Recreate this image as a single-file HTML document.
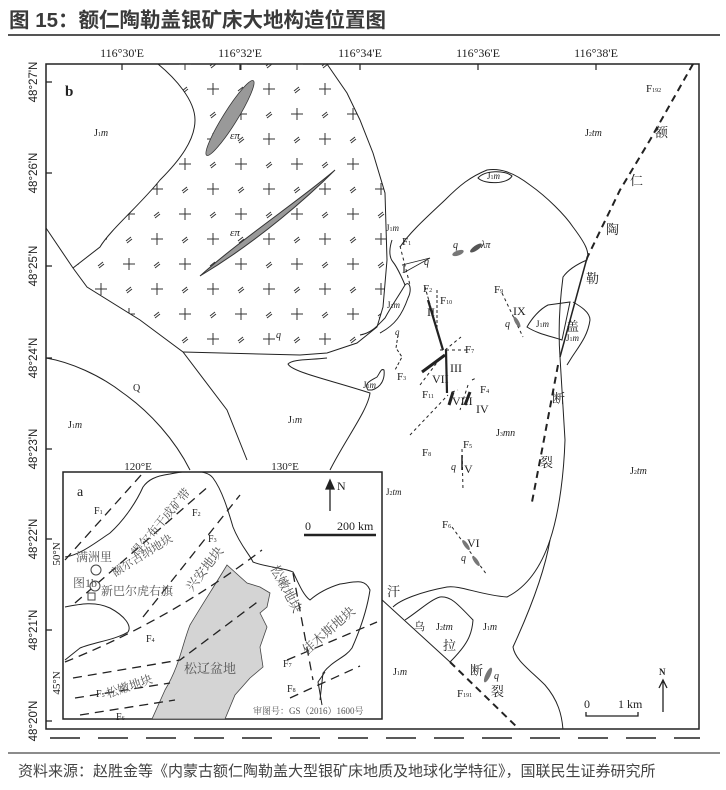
<!DOCTYPE html>
<html><head><meta charset="utf-8"><style>
html,body{margin:0;padding:0;background:#fff;width:726px;height:790px;overflow:hidden}
svg{position:absolute;left:0;top:0}
.t{font-family:"Liberation Serif","Noto Serif CJK SC",serif;fill:#222}
.s{font-family:"Liberation Sans","Noto Sans CJK SC",sans-serif}
.i{font-style:italic}
</style></head><body>
<svg width="726" height="790" viewBox="0 0 726 790" xmlns="http://www.w3.org/2000/svg">
<defs>
<pattern id="gr" width="56" height="50" patternUnits="userSpaceOnUse" x="2" y="4">
<g stroke="#333" stroke-width="1">
<path d="M9 10h12M15 4v12"/>
<path d="M40 12l5-4M41 14l5-4"/>
<path d="M37 35h12M43 29v12"/>
<path d="M12 37l5-4M13 39l5-4"/>
</g>
</pattern>
<clipPath id="gc"><path d="M158,64 C175,78 195,100 195,120 C195,140 180,160 160,180 C140,205 110,230 100,247 L73,268 L87,287 L140,320 L183,352 L300,355 L327,353 L357,343 L377,327 L383,307 L387,260 L385,193 L373,153 L360,120 L347,93 L327,64 Z"/></clipPath>
<clipPath id="mc"><rect x="46" y="64" width="653" height="665"/></clipPath>
<clipPath id="ic"><rect x="63" y="472" width="319" height="247"/></clipPath>
</defs>

<text x="9" y="27" class="s" font-size="20.5" font-weight="bold" fill="#3a3a3a">图 15：额仁陶勒盖银矿床大地构造位置图</text>
<line x1="8" y1="35" x2="720" y2="35" stroke="#555" stroke-width="2"/>

<g class="t" font-size="12" text-anchor="middle">
<text x="122" y="57">116°30'E</text><text x="240" y="57">116°32'E</text><text x="360" y="57">116°34'E</text><text x="478" y="57">116°36'E</text><text x="596" y="57">116°38'E</text>
</g>
<g class="s" font-size="11.5" fill="#222" text-anchor="middle">
<text transform="translate(37,82) rotate(-90)">48°27'N</text>
<text transform="translate(37,173) rotate(-90)">48°26'N</text>
<text transform="translate(37,266) rotate(-90)">48°25'N</text>
<text transform="translate(37,358) rotate(-90)">48°24'N</text>
<text transform="translate(37,449) rotate(-90)">48°23'N</text>
<text transform="translate(37,539) rotate(-90)">48°22'N</text>
<text transform="translate(37,630) rotate(-90)">48°21'N</text>
<text transform="translate(37,721) rotate(-90)">48°20'N</text>
</g>

<rect x="46" y="64" width="653" height="665" fill="none" stroke="#222" stroke-width="1.5"/>
<g stroke="#222" stroke-width="1.2">
<path d="M122 64v6M240 64v6M360 64v6M478 64v6M596 64v6"/>
<path d="M46 82h6M46 173h6M46 266h6M46 358h6M46 449h6M46 539h6M46 630h6M46 721h6"/>
</g>
<path d="M50 738h650" stroke="#222" stroke-width="1.6" stroke-dasharray="30 18"/>

<g clip-path="url(#mc)" fill="none" stroke="#222" stroke-width="1">
<rect x="40" y="60" width="360" height="300" fill="url(#gr)" stroke="none" clip-path="url(#gc)"/>
<path d="M158,64 C175,78 195,100 195,120 C195,140 180,160 160,180 C140,205 110,230 100,247 L73,268"/>
<path d="M46,228 L73,268 L87,287 L140,320 L183,352 L227,410 L247,460"/>
<path d="M183,352 L300,355 L327,353 L357,343 L377,327 L383,307 L387,260 L385,193 L373,153 L360,120 L347,93 L327,64"/>
<path d="M327,358 C310,360 292,359 288,364 C292,372 330,380 370,393 C368,410 345,440 330,470"/>
<path d="M46,358 C70,362 100,375 123,393 C150,412 175,440 190,470"/>
<path d="M368,390 C363,383 372,380 377,377 C380,373 381,368 384,370 C385,378 382,387 372,390 Z"/>
<path d="M360,335 C372,333 378,325 385,318 C392,305 398,297 405,285 C410,280 412,290 408,298 C402,315 395,325 380,333"/>
<path d="M392,240 C390,246 388,256 393,262 C398,268 405,285 405,285"/>
<path d="M400,247 C410,232 427,217 445,200 C460,185 470,177 487,170 C500,168 513,172 530,185 C547,197 565,215 573,227 C585,243 590,252 587,260 C575,265 568,270 563,277 C560,300 558,330 560,357 L565,440 C564,470 560,510 550,540 C540,570 525,588 507,597 C480,595 460,585 447,587 C420,592 400,600 393,607"/>
<path d="M550,540 C545,570 530,610 513,647 C515,660 530,670 545,685 C558,700 562,715 563,730"/>
<path d="M405,620 C420,610 430,600 440,597 C450,596 456,602 473,620 C472,635 467,645 450,662"/>
<path d="M380,598 L450,662"/>
<path d="M450,662 L520,730" stroke-width="2" stroke-dasharray="7 5"/>
<path d="M478,178 C485,170 505,170 512,176 C508,184 485,185 478,178 Z"/>
<path d="M527,327 C532,318 540,309 548,305 L570,302 L562,340 C550,336 538,334 527,327 Z"/>
<path d="M573,302 C580,306 590,312 590,320 C588,335 580,345 572,357 L567,365"/>
<path d="M693,64 L650,140 L620,190 L587,258" stroke-width="2" stroke-dasharray="7 5"/>
<path d="M587,258 L560,357" stroke-width="1.5"/>
<path d="M558,365 L542,450 L532,502" stroke-width="2" stroke-dasharray="7 5"/>
<path d="M400,246 L410,285" stroke-dasharray="3 3"/>
<path d="M402,265 L430,258 M405,272 L430,258" stroke-width="0.8"/>
<path d="M425,287 L443,350 M437,290 L437,330" stroke-dasharray="3 2"/>
<path d="M428,300 L443,350" stroke-width="2.2"/>
<path d="M440,350 L470,350 M420,385 L442,356 M445,350 L461,337" stroke-dasharray="3 3"/>
<path d="M422,372 L445,355" stroke-width="3"/>
<path d="M446,350 L447,393" stroke-width="2.2"/>
<path d="M410,435 L448,395 M452,392 L458,390" stroke-dasharray="3 3"/>
<path d="M453,392 L449,405" stroke-width="3"/>
<path d="M468,385 L460,410 M472,380 L476,378" stroke-dasharray="3 3"/>
<path d="M470,392 L465,405" stroke-width="3"/>
<path d="M502,293 L523,337" stroke-dasharray="3 3"/>
<path d="M462,449 L463,490" stroke-dasharray="3 3"/>
<path d="M462,455 L462,470" stroke-width="1.5"/>
<path d="M452,527 L487,575" stroke-dasharray="3 3"/>
<path d="M398,335 L396,348 L402,357 L395,370" stroke-dasharray="3 2"/>
</g>
<ellipse cx="230" cy="118" rx="44" ry="7" transform="rotate(-58 230 118)" fill="#999" stroke="#333" stroke-width="0.8"/>
<path d="M200,276 C240,240 300,200 335,170 C310,195 260,240 200,276 Z" fill="#999" stroke="#333" stroke-width="1"/>
<ellipse cx="458" cy="253" rx="6" ry="2.5" transform="rotate(-20 458 253)" fill="#777"/>
<ellipse cx="476" cy="248" rx="7" ry="2.5" transform="rotate(-35 476 248)" fill="#555"/>
<ellipse cx="517" cy="322" rx="6" ry="2" transform="rotate(60 517 322)" fill="#777"/>
<ellipse cx="466" cy="545" rx="6" ry="2" transform="rotate(55 466 545)" fill="#777"/>
<ellipse cx="476" cy="561" rx="6" ry="2" transform="rotate(55 476 561)" fill="#777"/>
<ellipse cx="488" cy="675" rx="8" ry="2.5" transform="rotate(-65 488 675)" fill="#777"/>

<g class="t" font-size="10">
<text x="65" y="96" font-size="15" font-weight="bold">b</text>
<text x="94" y="136">J<tspan font-size="6">1</tspan><tspan class="i">m</tspan></text>
<text x="230" y="139" class="i" font-size="11">επ</text>
<text x="230" y="236" class="i" font-size="11">επ</text>
<text x="276" y="338" class="i">q</text>
<text x="133" y="391">Q</text>
<text x="68" y="428">J<tspan font-size="6">1</tspan><tspan class="i">m</tspan></text>
<text x="288" y="423">J<tspan font-size="6">1</tspan><tspan class="i">m</tspan></text>
<text x="386" y="231" font-size="9">J<tspan font-size="6">1</tspan><tspan class="i">m</tspan></text>
<text x="387" y="308" font-size="9">J<tspan font-size="6">1</tspan><tspan class="i">m</tspan></text>
<text x="363" y="388" font-size="9">J<tspan font-size="6">1</tspan><tspan class="i">m</tspan></text>
<text x="487" y="179" font-size="9">J<tspan font-size="6">1</tspan><tspan class="i">m</tspan></text>
<text x="536" y="327" font-size="9">J<tspan font-size="6">1</tspan><tspan class="i">m</tspan></text>
<text x="566" y="341" font-size="9">J<tspan font-size="6">1</tspan><tspan class="i">m</tspan></text>
<text x="585" y="136">J<tspan font-size="6">2</tspan><tspan class="i">tm</tspan></text>
<text x="630" y="474">J<tspan font-size="6">2</tspan><tspan class="i">tm</tspan></text>
<text x="386" y="495" font-size="9">J<tspan font-size="6">2</tspan><tspan class="i">tm</tspan></text>
<text x="496" y="436">J<tspan font-size="6">3</tspan><tspan class="i">mn</tspan></text>
<text x="436" y="630">J<tspan font-size="6">2</tspan><tspan class="i">tm</tspan></text>
<text x="483" y="630">J<tspan font-size="6">1</tspan><tspan class="i">m</tspan></text>
<text x="393" y="675">J<tspan font-size="6">1</tspan><tspan class="i">m</tspan></text>
<text x="646" y="92" font-size="11">F<tspan font-size="6">192</tspan></text>
<text x="402" y="245" font-size="11">F<tspan font-size="6">1</tspan></text>
<text x="402" y="273" font-size="12">I</text>
<text x="424" y="265" class="i">q</text>
<text x="453" y="248" class="i">q</text>
<text x="481" y="248" class="i">λπ</text>
<text x="423" y="292" font-size="11">F<tspan font-size="6">2</tspan></text>
<text x="440" y="304" font-size="11">F<tspan font-size="6">10</tspan></text>
<text x="427" y="316" font-size="12">II</text>
<text x="494" y="293" font-size="11">F<tspan font-size="6">9</tspan></text>
<text x="513" y="315" font-size="12">IX</text>
<text x="505" y="327" class="i">q</text>
<text x="395" y="335" class="i" font-size="9">q</text>
<text x="397" y="380" font-size="11">F<tspan font-size="6">3</tspan></text>
<text x="465" y="353" font-size="11">F<tspan font-size="6">7</tspan></text>
<text x="450" y="372" font-size="12">III</text>
<text x="432" y="383" font-size="12">VII</text>
<text x="422" y="398" font-size="11">F<tspan font-size="6">11</tspan></text>
<text x="452" y="405" font-size="12">VIII</text>
<text x="480" y="393" font-size="11">F<tspan font-size="6">4</tspan></text>
<text x="476" y="413" font-size="12">IV</text>
<text x="422" y="456" font-size="11">F<tspan font-size="6">8</tspan></text>
<text x="463" y="448" font-size="11">F<tspan font-size="6">5</tspan></text>
<text x="451" y="470" class="i">q</text>
<text x="464" y="473" font-size="12">V</text>
<text x="442" y="528" font-size="11">F<tspan font-size="6">6</tspan></text>
<text x="467" y="547" font-size="12">VI</text>
<text x="461" y="561" class="i">q</text>
<text x="494" y="679" class="i">q</text>
<text x="457" y="697" font-size="11">F<tspan font-size="6">191</tspan></text>
</g>
<g class="t" font-size="13">
<text x="655" y="137">额</text><text x="630" y="185">仁</text><text x="606" y="234">陶</text><text x="586" y="283">勒</text><text x="566" y="331">盖</text><text x="552" y="403">断</text><text x="540" y="467">裂</text>
<text x="387" y="596">汗</text><text x="414" y="630" font-size="11">乌</text><text x="443" y="650">拉</text><text x="470" y="675">断</text><text x="491" y="696">裂</text>
</g>
<text x="584" y="708" class="t" font-size="12">0</text><text x="618" y="708" class="t" font-size="12">1 km</text>
<path d="M586 712v4h52v-4" stroke="#222" stroke-width="1.3" fill="none"/>
<text x="659" y="675" class="t" font-size="9" font-weight="bold">N</text>
<path d="M663 712V680M659 688l4-8 4 8" stroke="#222" stroke-width="1.3" fill="none"/>

<rect x="63" y="472" width="319" height="247" fill="#fff" stroke="#222" stroke-width="1.5"/>
<g class="t" font-size="11" text-anchor="middle"><text x="138" y="470">120°E</text><text x="285" y="470">130°E</text></g>
<g class="t" font-size="11" text-anchor="middle"><text transform="translate(60,554) rotate(-90)">50°N</text><text transform="translate(60,683) rotate(-90)">45°N</text></g>
<g clip-path="url(#ic)">
<path d="M227,565 C215,585 205,600 190,625 C182,645 180,665 165,690 L152,719 L225,719 L235,695 L250,678 L263,667 L260,647 L267,627 L260,613 L267,607 L270,593 L260,587 L247,583 Z" fill="#d4d4d4" stroke="#444" stroke-width="0.8"/>
<g fill="none" stroke="#222" stroke-width="1">
<path d="M65,557 C80,555 95,543 110,533 C122,522 135,505 143,487 C148,480 155,476 170,474 C190,470 207,470 213,478 C222,490 228,510 233,527 C240,545 250,555 253,562 C265,567 285,568 293,572 C298,582 303,595 310,600 C318,593 327,588 340,584 C355,582 365,578 370,590 C367,610 360,630 352,648 C345,658 333,660 323,673 L320,700"/>
<path d="M65,607 C80,604 95,601 110,608 C125,616 132,626 128,632 C115,640 95,642 80,648 L65,660"/>
<g stroke-width="1.3" stroke-dasharray="9 6">
<path d="M65,560 L142,474"/>
<path d="M75,603 L210,485"/>
<path d="M143,617 L240,495"/>
<path d="M65,662 C120,640 190,605 262,550"/>
<path d="M73,678 L180,660 L260,600"/>
<path d="M75,698 L170,683"/>
<path d="M80,715 L175,700"/>
<path d="M293,573 L313,680"/>
<path d="M287,660 L377,622"/>
<path d="M290,698 L360,666"/>
</g>
<path d="M322,705 L318,682 L325,672"/>
</g>
<circle cx="96" cy="570" r="5" fill="#fff" stroke="#444"/>
<circle cx="95" cy="586" r="5" fill="#fff" stroke="#444"/>
<rect x="88" y="593" width="7" height="7" fill="#fff" stroke="#444"/>
</g>
<g class="t" font-size="12" fill="#555">
<text x="77" y="496" font-size="14" fill="#222">a</text>
<text x="94" y="514" font-size="10" fill="#222">F<tspan font-size="6">1</tspan></text>
<text x="192" y="516" font-size="10" fill="#222">F<tspan font-size="6">2</tspan></text>
<text x="208" y="542" font-size="10" fill="#222">F<tspan font-size="6">3</tspan></text>
<text x="146" y="642" font-size="10" fill="#222">F<tspan font-size="6">4</tspan></text>
<text x="96" y="697" font-size="10" fill="#222">F<tspan font-size="6">5</tspan></text>
<text x="116" y="720" font-size="10" fill="#222">F<tspan font-size="6">6</tspan></text>
<text x="283" y="667" font-size="10" fill="#222">F<tspan font-size="6">7</tspan></text>
<text x="287" y="692" font-size="10" fill="#222">F<tspan font-size="6">8</tspan></text>
<text x="76" y="561" fill="#555">满洲里</text>
<text transform="translate(137,557) rotate(-50)" fill="#555">得尔布干成矿带</text>
<text transform="translate(115,577) rotate(-32)" fill="#555" font-size="11.5">额尔古纳地块</text>
<text x="73" y="587" fill="#555">图1b</text>
<text x="101" y="595" fill="#555">新巴尔虎右旗</text>
<text transform="translate(192,592) rotate(-52)" fill="#555" font-size="13">兴安地块</text>
<text transform="translate(270,568) rotate(62)" fill="#555" font-size="13">松嫩地块</text>
<text transform="translate(307,655) rotate(-41)" fill="#555" font-size="13">佳木斯地块</text>
<text x="184" y="673" fill="#555" font-size="13">松辽盆地</text>
<text transform="translate(108,698) rotate(-19)" fill="#555">松嫩地块</text>
<text x="253" y="714" font-size="9" fill="#555">审图号：GS（2016）1600号</text>
<text x="305" y="530" font-size="12" fill="#222">0</text><text x="337" y="530" font-size="12" fill="#222">200 km</text>
<text x="337" y="490" font-size="12" fill="#222">N</text>
</g>
<path d="M304 535h72" stroke="#222" stroke-width="2.5"/>
<path d="M330 511V481M326 489l4-9 4 9z" stroke="#222" stroke-width="1.3" fill="#222"/>

<line x1="8" y1="753" x2="720" y2="753" stroke="#666" stroke-width="1.5"/>
<text x="18" y="776" class="s" font-size="15" fill="#444">资料来源：赵胜金等《内蒙古额仁陶勒盖大型银矿床地质及地球化学特征》，国联民生证券研究所</text>
</svg>
</body></html>
